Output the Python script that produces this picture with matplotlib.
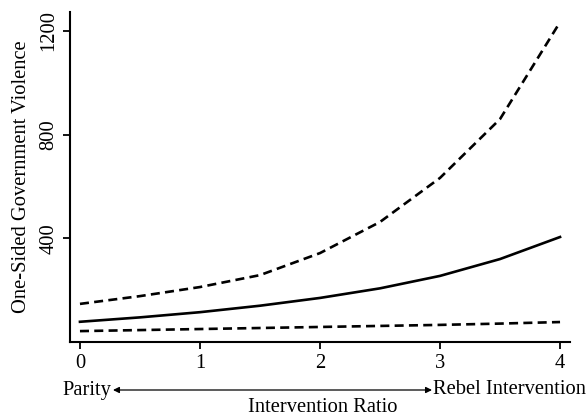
import matplotlib
matplotlib.use("Agg")
from matplotlib import pyplot as plt

# значения
ratio = [0, 0.5, 1, 1.5, 2, 2.5, 3, 3.5, 4]
estimate = [78, 95, 115, 140, 170, 207, 255, 320, 405]
upper_ci = [147, 177, 212, 258, 343, 463, 633, 860, 1234]
lower_ci = [42, 46, 50, 54, 58, 62, 66, 71, 77]

x_ticks = [0, 1, 2, 3, 4]
y_ticks = [400, 800, 1200]

plt.rcParams['font.family'] = ['Liberation Serif', 'DejaVu Serif']
plt.rcParams['lines.scale_dashes'] = False

fs = 14.8
fig = plt.figure(figsize=(5.87, 4.16), dpi=100)
ax = fig.add_axes([70 / 587, 1 - 342 / 416, 500 / 587, 330 / 416])

dash = (0, (6.5, 3.8))
ax.plot(ratio, upper_ci, color='black', lw=1.9, linestyle=dash)
ax.plot(ratio, estimate, color='black', lw=1.9)
ax.plot(ratio, lower_ci, color='black', lw=1.9, linestyle=dash)

ax.set_xlim(-0.083, 4.083)
ax.set_ylim(0, 1273)
ax.set_xticks(x_ticks)
ax.set_yticks(y_ticks)
ax.tick_params(labelsize=fs, length=5, width=1.3, color='black')
plt.setp(ax.get_yticklabels(), rotation=90, va='center')

for side in ['top', 'right']:
    ax.spines[side].set_visible(False)
for side in ['left', 'bottom']:
    ax.spines[side].set_linewidth(1.5)

ax.set_ylabel('One-Sided Government Violence', fontsize=fs, labelpad=6)

# подпись под осью со стрелкой
y_arrow = 1 - 390 / 416
fig.text(111 / 587, y_arrow, 'Parity', ha='right', va='center', fontsize=fs)
fig.text(433 / 587, y_arrow, 'Rebel Intervention', ha='left', va='center', fontsize=fs)
ax.annotate('', xy=(432 / 587, y_arrow), xytext=(113 / 587, y_arrow),
            xycoords='figure fraction', textcoords='figure fraction',
            arrowprops=dict(arrowstyle='<|-|>', color='black', lw=0.9,
                            mutation_scale=9, shrinkA=0, shrinkB=0))
fig.text(323 / 587, 1 - 407 / 416, 'Intervention Ratio', ha='center', va='center', fontsize=fs)

fig.savefig('out.png', dpi=100)
